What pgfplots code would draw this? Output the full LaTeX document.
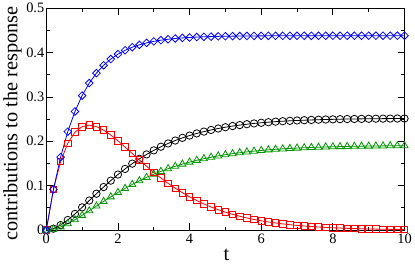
\documentclass[border=0pt]{standalone}
\usepackage{fontspec}
\setmainfont{Liberation Serif}
\usepackage{pgfplots}
\pgfplotsset{compat=1.18}
\usepackage{pgfplotstable}
\definecolor{gblue}{RGB}{0,0,255}
\definecolor{gred}{RGB}{255,0,0}
\definecolor{ggreen}{RGB}{0,150,0}
\pgfplotstableread{
t blue red black green
0 0 0 0 0
0.2 0.0918 0.0913 0.0031 0.0020
0.4 0.1644 0.1543 0.0112 0.0071
0.6 0.2218 0.1957 0.0227 0.0145
0.8 0.2671 0.2206 0.0364 0.0234
1.0 0.3030 0.2330 0.0512 0.0332
1.2 0.3313 0.2364 0.0666 0.0436
1.4 0.3537 0.2331 0.0820 0.0542
1.6 0.3713 0.2252 0.0970 0.0646
1.8 0.3853 0.2142 0.1114 0.0749
2.0 0.3964 0.2012 0.1251 0.0847
2.2 0.4051 0.1870 0.1378 0.0940
2.4 0.4120 0.1725 0.1497 0.1029
2.6 0.4174 0.1579 0.1606 0.1111
2.8 0.4218 0.1438 0.1705 0.1188
3.0 0.4252 0.1302 0.1796 0.1258
3.2 0.4279 0.1174 0.1878 0.1323
3.4 0.4300 0.1054 0.1952 0.1383
3.6 0.4317 0.0944 0.2018 0.1437
3.8 0.4330 0.0842 0.2078 0.1487
4.0 0.4340 0.0749 0.2130 0.1532
4.2 0.4349 0.0665 0.2178 0.1572
4.4 0.4355 0.0589 0.2219 0.1609
4.6 0.4360 0.0520 0.2256 0.1642
4.8 0.4365 0.0459 0.2289 0.1672
5.0 0.4368 0.0404 0.2318 0.1698
5.2 0.4370 0.0355 0.2344 0.1722
5.4 0.4372 0.0312 0.2366 0.1743
5.6 0.4374 0.0273 0.2386 0.1762
5.8 0.4375 0.0239 0.2403 0.1779
6.0 0.4376 0.0209 0.2418 0.1794
6.2 0.4377 0.0183 0.2431 0.1808
6.4 0.4377 0.0160 0.2443 0.1820
6.6 0.4377 0.0139 0.2453 0.1830
6.8 0.4378 0.0121 0.2462 0.1840
7.0 0.4378 0.0105 0.2470 0.1848
7.2 0.4378 0.0092 0.2476 0.1855
7.4 0.4378 0.0080 0.2482 0.1862
7.6 0.4378 0.0069 0.2487 0.1868
7.8 0.4379 0.0060 0.2492 0.1873
8.0 0.4379 0.0052 0.2495 0.1877
8.2 0.4379 0.0045 0.2499 0.1881
8.4 0.4379 0.0039 0.2502 0.1885
8.6 0.4379 0.0034 0.2504 0.1888
8.8 0.4379 0.0029 0.2506 0.1891
9.0 0.4380 0.0025 0.2508 0.1893
9.2 0.4380 0.0022 0.2510 0.1895
9.4 0.4380 0.0019 0.2511 0.1897
9.6 0.4380 0.0016 0.2512 0.1899
9.8 0.4380 0.0014 0.2514 0.1900
10.0 0.4380 0.0012 0.2514 0.1901
}\data
\begin{document}
\begin{tikzpicture}
\begin{axis}[
  scale only axis, width=360bp, height=223bp,
  xmin=0, xmax=10, ymin=0, ymax=0.5,
  xtick={0,2,4,6,8,10}, minor xtick={1,3,5,7,9},
  ytick={0,0.1,0.2,0.3,0.4,0.5}, minor ytick={0.05,0.15,0.25,0.35,0.45},
  xticklabels={0,2,4,6,8,10}, yticklabels={0,0.1,0.2,0.3,0.4,0.5},
  tick align=inside, major tick length=7bp, minor tick length=3.5bp,
  every tick/.style={black, line width=0.8pt},
  axis line style={line width=0.8pt},
  tick label style={font=\fontsize{14.5}{16}\selectfont},
  yticklabel style={xshift=1.5bp},
  /pgf/number format/assume math mode=true,
  xlabel={t}, ylabel={contributions to the response},
  label style={font=\fontsize{20.5}{24}\selectfont},
  xlabel style={at={(axis description cs:0.503,-0.135)}, anchor=base},
  ylabel style={at={(axis description cs:-0.0806,0.48)}, anchor=base},
  clip=false,
]
\addplot[black, line width=0.8pt, mark=o, mark size=3.7bp] table[x=t,y=black]{\data};
\addplot[ggreen, line width=0.8pt, mark=triangle, mark size=4.1bp] table[x=t,y=green]{\data};
\addplot[gred, line width=0.8pt, mark=square, mark size=3.3bp] table[x=t,y=red]{\data};
\addplot[gblue, line width=0.8pt, mark=square, mark size=2.7bp, mark options={rotate=45}] table[x=t,y=blue]{\data};
\end{axis}
\end{tikzpicture}
\end{document}
